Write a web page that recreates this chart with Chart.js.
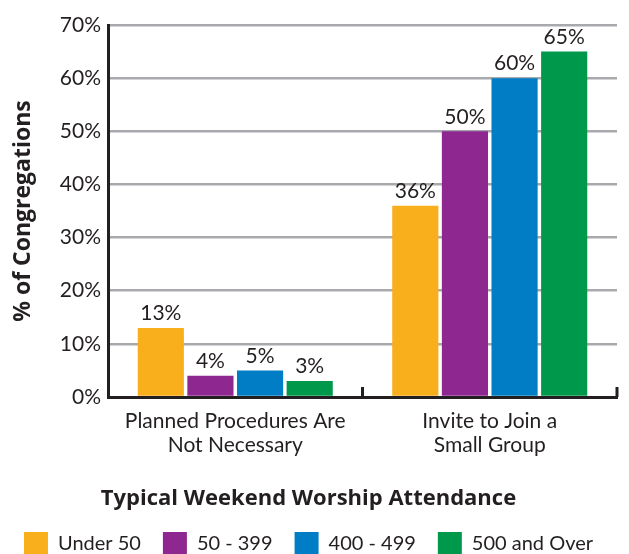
<html>
<head>
  <style>
    body { margin: 0; background: #fff; }
    #wrap { width: 629px; height: 554px; }
  </style>
</head>
<body>
  <div id="wrap"><canvas id="chart"></canvas></div>

  <script src="https://cdn.jsdelivr.net/npm/chart.js"></script>
  <script>
    const categories = [["Planned Procedures Are", "Not Necessary"], ["Invite to Join a", "Small Group"]];
    const seriesNames = ["Under 50", "50 - 399", "400 - 499", "500 and Over"];
    const under50 = [13, 36];
    const mid50to399 = [4, 50];
    const mid400to499 = [5, 60];
    const over500 = [3, 65];
    const yTicks = [0, 10, 20, 30, 40, 50, 60, 70];
    const colors = ["#f9ae1b", "#8e278f", "#007dc5", "#00984a"];

    const textColor = "#231f20";
    const fontFamily = "Lato, 'Open Sans', sans-serif";
    const boldFamily = "'Open Sans', Lato, sans-serif";

    // labels above each bar
    const barLabels = {
      id: "barLabels",
      afterDatasetsDraw(chart) {
        const ctx = chart.ctx;
        ctx.save();
        ctx.font = "21px " + fontFamily;
        ctx.fillStyle = textColor;
        ctx.textAlign = "center";
        ctx.textBaseline = "bottom";
        chart.data.datasets.forEach((ds, i) => {
          chart.getDatasetMeta(i).data.forEach((bar, j) => {
            ctx.fillText(ds.data[j] + "%", bar.x, bar.y - 4);
          });
        });
        ctx.restore();
      }
    };

    // small tick marks between the category groups
    const groupTicks = {
      id: "groupTicks",
      afterDraw(chart) {
        const x = chart.scales.x;
        const ctx = chart.ctx;
        const n = chart.data.labels.length;
        ctx.save();
        ctx.strokeStyle = textColor;
        ctx.lineWidth = 3;
        for (let i = 1; i <= n; i++) {
          const px = x.left + i * (x.right - x.left) / n;
          ctx.beginPath();
          ctx.moveTo(px, x.top - 10);
          ctx.lineTo(px, x.top);
          ctx.stroke();
        }
        ctx.restore();
      }
    };

    const datasets = [under50, mid50to399, mid400to499, over500].map((d, i) => ({
      label: seriesNames[i],
      data: d,
      backgroundColor: colors[i],
      barPercentage: 0.93,
      categoryPercentage: 0.78
    }));

    new Chart(document.getElementById("chart"), {
      type: "bar",
      data: { labels: categories, datasets: datasets },
      plugins: [barLabels, groupTicks],
      options: {
        responsive: true,
        maintainAspectRatio: false,
        animation: false,
        layout: { padding: { top: 25, right: 12, left: 0, bottom: -12 } },
        scales: {
          x: {
            grid: { display: false },
            border: { color: textColor, width: 3 },
            afterFit: (s) => { s.height = 81; },
            ticks: {
              color: textColor,
              font: { family: fontFamily, size: 21, lineHeight: 1.15 },
              padding: 4
            }
          },
          y: {
            min: 0,
            max: 70,
            afterFit: (s) => { s.width = 108; },
            afterBuildTicks: (axis) => { axis.ticks = yTicks.map(v => ({ value: v })); },
            grid: { color: "#a7a9ac", lineWidth: 2.5, drawTicks: false },
            border: { color: textColor, width: 3 },
            ticks: {
              color: textColor,
              font: { family: fontFamily, size: 21 },
              padding: 7,
              callback: (v) => v + "%"
            },
            title: {
              display: true,
              text: "% of Congregations",
              color: textColor,
              font: { family: boldFamily, size: 23, weight: "bold" },
              padding: { top: 10, bottom: 4 }
            }
          }
        },
        plugins: {
          tooltip: { enabled: false },
          legend: {
            position: "bottom",
            title: {
              display: true,
              text: "Typical Weekend Worship Attendance",
              color: textColor,
              font: { family: boldFamily, size: 22, weight: "bold", lineHeight: 1.0 },
              padding: { top: 10, bottom: 0 }
            },
            labels: {
              color: textColor,
              font: { family: fontFamily, size: 20 },
              boxWidth: 24,
              boxHeight: 24,
              padding: 22
            }
          }
        }
      }
    });
  </script>
</body>
</html>
